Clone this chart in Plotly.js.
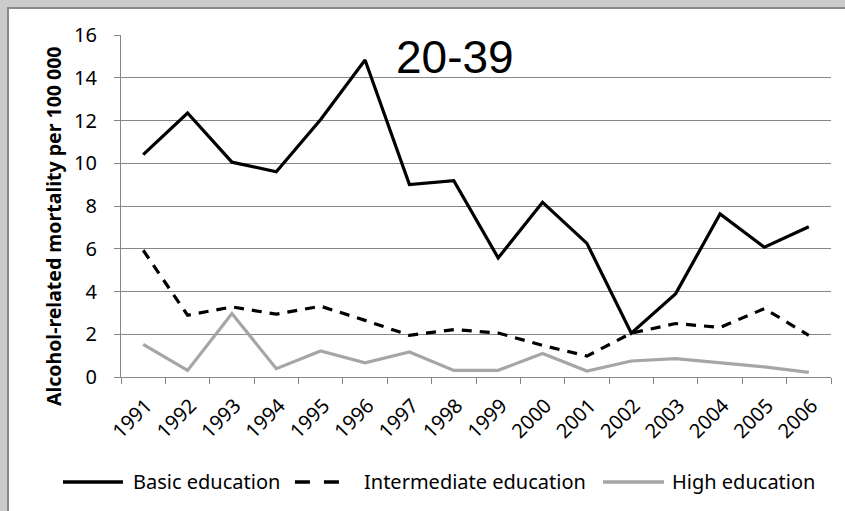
<!DOCTYPE html>
<html><head><meta charset="utf-8">
<script src="https://cdn.plot.ly/plotly-3.0.1.min.js"></script>
<style>
html,body{margin:0;padding:0;background:#cbcbcb;overflow:hidden;width:845px;height:511px;scrollbar-width:none}
::-webkit-scrollbar{display:none;width:0;height:0}
#frame{position:absolute;left:0;top:0;width:845px;height:511px;background:#cbcbcb;overflow:hidden}
#box{position:absolute;left:7px;top:7px;width:838px;height:504px;background:#fff;
  border-top:2px solid #8a8a8a;border-left:2px solid #8a8a8a;box-sizing:border-box}
#chart{position:absolute;left:0;top:0;width:845px;height:511px}
</style>
</head><body><div id="frame"><div id="box"></div><div id="chart"></div></div>
<script>
const years = ['1991','1992','1993','1994','1995','1996','1997','1998','1999','2000','2001','2002','2003','2004','2005','2006'];
const basic = [10.4,12.35,10.05,9.6,12.05,14.83,9.0,9.18,5.57,8.17,6.25,2.05,3.9,7.63,6.07,7.03];
const intermediate = [5.93,2.89,3.28,2.94,3.31,2.65,1.95,2.22,2.06,1.48,0.98,2.05,2.5,2.32,3.2,1.95];
const high = [1.53,0.31,2.97,0.39,1.22,0.66,1.17,0.31,0.31,1.1,0.28,0.75,0.86,0.66,0.47,0.22];
const seriesNames = ['Basic education','Intermediate education','High education'];
const seriesColors = ['#000000','#000000','#a6a6a6'];
const seriesDash = ['solid','10px,8px','solid'];
const chartTitle = '20-39';
const yTitle = 'Alcohol-related mortality per 100 000';

const seriesValues = [basic, intermediate, high];
const traces = seriesValues.map((vals, i) => ({
  x: years, y: vals, name: seriesNames[i], type: 'scatter', mode: 'lines',
  line: {color: seriesColors[i], width: 3.2, dash: seriesDash[i]}, showlegend: false
}));

// manual legend (paper coordinates)
const legendY = -0.307;
const legendSample = [[-0.0817, 0.0028], [0.245, 0.312], [0.6789, 0.7648]];
const legendText = [0.0155, 0.3408, 0.7746];
const legendDash = ['solid', '15px,14px', 'solid'];
const legendShapes = legendSample.map((s, i) => ({
  type: 'line', xref: 'paper', yref: 'paper', x0: s[0], x1: s[1], y0: legendY, y1: legendY,
  line: {color: seriesColors[i], width: 3.5, dash: legendDash[i]}
}));
const legendAnn = legendText.map((x, i) => ({
  text: seriesNames[i], xref: 'paper', yref: 'paper', x: x, y: legendY,
  xanchor: 'left', yanchor: 'middle', showarrow: false, borderpad: 0,
  font: {family: 'Noto Sans, sans-serif', size: 20, color: '#000'}
}));

const tickFont = {family: 'Noto Sans, sans-serif', size: 20, color: '#000'};
const layout = {
  width: 845, height: 511,
  paper_bgcolor: 'rgba(0,0,0,0)', plot_bgcolor: 'rgba(0,0,0,0)',
  margin: {l: 121, r: 14, t: 35, b: 134, autoexpand: false},
  showlegend: false,
  xaxis: {type: 'category', range: [-0.5, years.length - 0.5], tickson: 'boundaries',
    ticks: 'outside', ticklen: 6,
    tickcolor: '#868686', showgrid: false, showline: true, linecolor: '#868686', linewidth: 1,
    tickangle: -45, tickfont: tickFont,
    zeroline: false, ticklabelstandoff: 8, ticklabelshift: 3, automargin: false},
  yaxis: {range: [0, 16], dtick: 2, ticks: 'outside', ticklen: 6, tickcolor: '#868686',
    showgrid: true, gridcolor: '#868686', gridwidth: 1, showline: true, linecolor: '#868686',
    zeroline: false, tickfont: tickFont, ticklabelstandoff: 13, automargin: false},
  annotations: [
    {text: chartTitle, xref: 'paper', yref: 'paper', x: 0.47, y: 0.936,
     xanchor: 'center', yanchor: 'middle', showarrow: false,
     font: {family: 'Liberation Sans, Arial, sans-serif', size: 46, color: '#000'}},
    {text: yTitle, xref: 'paper', yref: 'paper', x: -0.095, y: 0.44, textangle: -90,
     xanchor: 'center', yanchor: 'middle', showarrow: false,
     font: {family: 'Noto Sans, sans-serif', size: 19.5, color: '#000', weight: 'bold'}}
  ].concat(legendAnn),
  shapes: legendShapes
};
Plotly.newPlot('chart', traces, layout, {displayModeBar: false, staticPlot: true});
</script></body></html>
